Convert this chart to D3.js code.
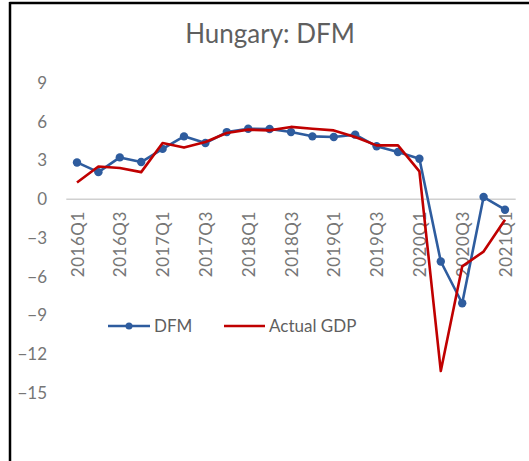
<!DOCTYPE html>
<html>
<head>
<meta charset="utf-8">
<script src="https://cdn.jsdelivr.net/npm/d3@7"></script>
<style>
  html, body { margin: 0; padding: 0; background: #fff; }
  svg { display: block; }
  text { font-family: Lato, "Open Sans", sans-serif; }
</style>
</head>
<body>
<svg id="chart" width="529" height="461"></svg>
<script>
const quarters = ["2016Q1","2016Q2","2016Q3","2016Q4","2017Q1","2017Q2","2017Q3","2017Q4",
  "2018Q1","2018Q2","2018Q3","2018Q4","2019Q1","2019Q2","2019Q3","2019Q4",
  "2020Q1","2020Q2","2020Q3","2020Q4","2021Q1"];
const dfm = [2.85, 2.1, 3.24, 2.88, 3.9, 4.87, 4.35, 5.2, 5.46, 5.44, 5.2, 4.87, 4.82, 5.0, 4.1, 3.66, 3.14, -4.82, -8.05, 0.17, -0.81];
const actualGDP = [1.3, 2.54, 2.42, 2.1, 4.35, 4.0, 4.43, 5.13, 5.39, 5.33, 5.6, 5.46, 5.33, 4.82, 4.17, 4.17, 2.16, -13.3, -5.2, -4.05, -1.59];
const yTicks = [9, 6, 3, 0, -3, -6, -9, -12, -15];
const xTickLabels = quarters.filter((d, i) => i % 2 === 0);
const title = "Hungary: DFM";
const seriesNames = ["DFM", "Actual GDP"];
const colors = ["#2E5C9E", "#C00000"];

const svg = d3.select("#chart");

// frame (top and left edges)
svg.append("line").attr("x1", 9.5).attr("x2", 529).attr("y1", 3).attr("y2", 3)
  .attr("stroke", "#000").attr("stroke-width", 2.5);
svg.append("line").attr("x1", 10).attr("x2", 10).attr("y1", 2).attr("y2", 461)
  .attr("stroke", "#000").attr("stroke-width", 2.5);

svg.append("text").attr("x", 270).attr("y", 43).attr("text-anchor", "middle")
  .attr("font-size", 26).attr("fill", "#5f5f5f").text(title);

const x = d3.scalePoint().domain(quarters).range([77, 505]);
const step = x.step();
const y = d3.scaleLinear().domain([-15, 9]).range([393, 83]);

// y tick labels
const yAxis = d3.axisLeft(y).tickValues(yTicks).tickSize(0).tickPadding(0);
const gy = svg.append("g").attr("transform", "translate(47,0)").call(yAxis);
gy.select(".domain").remove();
gy.selectAll("text").attr("font-size", 17).attr("fill", "#767676")
  .attr("font-family", "Lato, 'Open Sans', sans-serif");

// zero line
svg.append("line").attr("x1", x(quarters[0]) - step / 2).attr("x2", x(quarters[quarters.length - 1]) + step / 2)
  .attr("y1", y(0)).attr("y2", y(0)).attr("stroke", "#d0d0d0").attr("stroke-width", 1.6);

// x tick labels
const xAxis = d3.axisBottom(x).tickValues(xTickLabels).tickSize(0).tickPadding(0);
const gx = svg.append("g").attr("transform", `translate(0,${y(0)})`).call(xAxis);
gx.select(".domain").remove();
gx.selectAll("text")
  .attr("font-size", 17).attr("fill", "#767676")
  .attr("font-family", "Lato, 'Open Sans', sans-serif")
  .attr("text-anchor", "end")
  .attr("transform", "translate(0,12) rotate(-90)")
  .attr("x", 0).attr("y", 0).attr("dy", "0.36em")
  .attr("letter-spacing", 0.5);

const line = d3.line().x((d, i) => x(quarters[i])).y(d => y(d));

// DFM series
svg.append("path").datum(dfm).attr("d", line).attr("fill", "none")
  .attr("stroke", colors[0]).attr("stroke-width", 2.6).attr("stroke-linejoin", "round");
svg.append("g").selectAll("circle").data(dfm).join("circle")
  .attr("cx", (d, i) => x(quarters[i])).attr("cy", d => y(d)).attr("r", 4.2)
  .attr("fill", colors[0]);

// Actual GDP series
svg.append("path").datum(actualGDP).attr("d", line).attr("fill", "none")
  .attr("stroke", colors[1]).attr("stroke-width", 2.6).attr("stroke-linejoin", "round");

// legend
const legY = 326;
const leg = svg.append("g");
leg.append("line").attr("x1", 108).attr("x2", 150).attr("y1", legY).attr("y2", legY)
  .attr("stroke", colors[0]).attr("stroke-width", 2.6);
leg.append("circle").attr("cx", 129).attr("cy", legY).attr("r", 3.5).attr("fill", colors[0]);
leg.append("text").attr("x", 154).attr("y", legY).attr("dy", "0.36em")
  .attr("font-size", 17).attr("fill", "#5f5f5f").text(seriesNames[0]);
leg.append("line").attr("x1", 224).attr("x2", 265).attr("y1", legY).attr("y2", legY)
  .attr("stroke", colors[1]).attr("stroke-width", 2.6);
leg.append("text").attr("x", 269).attr("y", legY).attr("dy", "0.36em")
  .attr("font-size", 17).attr("fill", "#5f5f5f").text(seriesNames[1]);
</script>
</body>
</html>
